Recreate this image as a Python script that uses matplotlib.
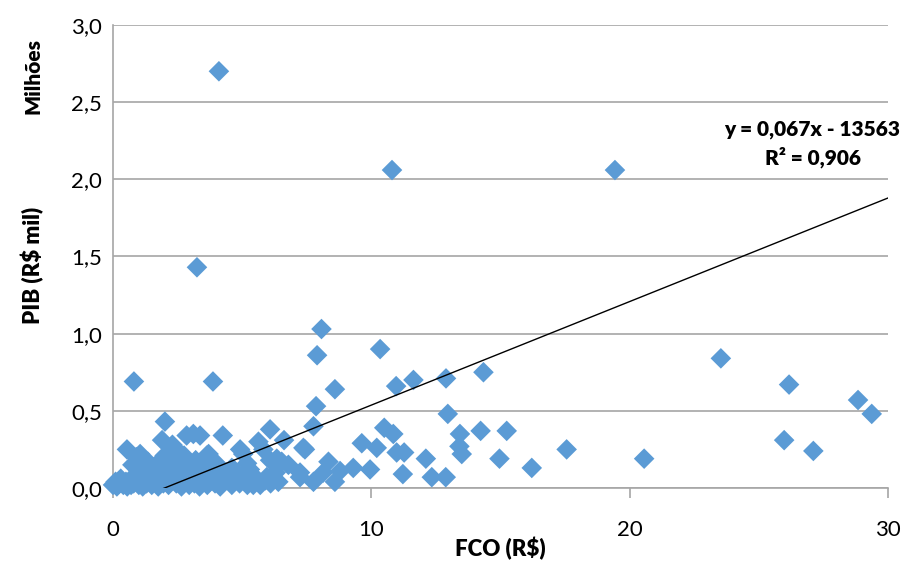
import matplotlib.pyplot as plt
from matplotlib.ticker import FuncFormatter

# FCO (R$) and PIB (millions)
fco = [
    # outliers / sparse points
    4.10, 10.80, 19.43, 3.25, 8.07, 7.90, 10.34, 0.81, 3.87, 8.59, 10.96, 11.63,
    12.89, 14.34, 7.86, 12.96, 23.53, 26.17, 28.84, 29.37, 25.98, 27.11, 20.56,
    17.56, 16.21, 15.24, 14.23, 13.43, 13.41, 13.50, 12.11, 12.34, 12.88, 14.96,
    11.22, 11.27, 10.98, 10.85, 10.50, 10.21, 9.95, 9.63, 9.30, 8.79, 8.59, 8.34,
    8.14, 7.76, 7.24, 7.43, 6.53, 6.62, 7.76, 7.37, 7.24, 6.79,
    # dense cluster, upper part
    0.54, 0.75, 0.90, 1.05, 1.20, 1.35, 1.50, 1.70, 1.85, 1.90, 2.01, 2.00, 2.15,
    2.30, 2.45, 2.50, 2.65, 2.75, 2.85, 2.90, 3.11, 3.20, 3.37, 3.40, 3.56, 3.63,
    3.70, 3.76, 3.90, 4.00, 4.25, 4.40, 4.60, 4.66, 4.84, 4.92, 5.04, 5.19, 5.30,
    5.38, 5.43, 5.63, 5.82, 5.95, 6.08, 6.08, 6.34, 6.30, 6.04,
    # dense cluster, bottom row
    0.00, 0.10, 0.15, 0.25, 0.30, 0.40, 0.50, 0.55, 0.65, 0.70, 0.80, 0.90, 1.00,
    1.05, 1.15, 1.20, 1.30, 1.40, 1.50, 1.55, 1.65, 1.75, 1.85, 1.95, 2.05, 2.15,
    2.25, 2.35, 2.45, 2.55, 2.65, 2.75, 2.85, 2.95, 3.05, 3.15, 3.25, 3.35, 3.45,
    3.55, 3.65, 3.75, 3.85, 3.95, 4.05, 4.15, 4.30, 4.45, 4.60, 4.75, 4.90, 5.05,
    5.20, 5.35, 5.50, 5.70, 5.90, 6.10, 6.40,
]
pib = [
    2.70, 2.06, 2.06, 1.43, 1.03, 0.86, 0.90, 0.69, 0.69, 0.64, 0.66, 0.70,
    0.71, 0.75, 0.53, 0.48, 0.84, 0.67, 0.57, 0.48, 0.31, 0.24, 0.19,
    0.25, 0.13, 0.37, 0.37, 0.35, 0.27, 0.22, 0.19, 0.07, 0.07, 0.19,
    0.09, 0.23, 0.23, 0.35, 0.39, 0.26, 0.12, 0.29, 0.13, 0.11, 0.04, 0.17,
    0.10, 0.04, 0.07, 0.25, 0.17, 0.31, 0.40, 0.26, 0.10, 0.15,
    0.25, 0.15, 0.20, 0.22, 0.13, 0.17, 0.12, 0.10, 0.18, 0.31, 0.43, 0.21, 0.14,
    0.28, 0.25, 0.17, 0.12, 0.21, 0.34, 0.15, 0.35, 0.18, 0.34, 0.13, 0.19, 0.21,
    0.22, 0.14, 0.12, 0.16, 0.34, 0.10, 0.13, 0.12, 0.08, 0.25, 0.22, 0.16, 0.12,
    0.09, 0.02, 0.30, 0.25, 0.07, 0.38, 0.18, 0.19, 0.10, 0.06,
    0.02, 0.04, 0.01, 0.03, 0.06, 0.02, 0.04, 0.01, 0.05, 0.02, 0.03, 0.07, 0.02,
    0.05, 0.01, 0.08, 0.03, 0.05, 0.02, 0.10, 0.04, 0.01, 0.06, 0.03, 0.08, 0.02,
    0.05, 0.11, 0.03, 0.07, 0.01, 0.04, 0.09, 0.02, 0.06, 0.03, 0.12, 0.01, 0.05,
    0.08, 0.02, 0.04, 0.10, 0.03, 0.06, 0.01, 0.04, 0.07, 0.02, 0.05, 0.03, 0.08,
    0.02, 0.04, 0.06, 0.02, 0.05, 0.03, 0.04,
]

# linear trendline in display units
trend_slope = 0.0671
trend_intercept = -0.134
trend_x = [0, 30]
equation_text = "y = 0,067x - 13563\nR² = 0,906"

plt.rcParams['font.family'] = ['Lato', 'DejaVu Sans']
grid_color = '#a6a6a6'

fig = plt.figure(figsize=(9.15, 5.65), dpi=100)
ax = fig.add_axes([0.1235, 0.1363, 0.847, 0.8195])

ax.scatter(fco, pib, marker='D', s=110, color='#5b9bd5', edgecolors='none',
           zorder=3, clip_on=False)
ax.plot(trend_x, [trend_slope * x + trend_intercept for x in trend_x],
        color='black', lw=1.0, zorder=4)

ax.set_xlim(0, 30)
ax.set_ylim(0, 3.0)
ax.set_xticks([0, 10, 20, 30])
ax.set_yticks([0, 0.5, 1.0, 1.5, 2.0, 2.5, 3.0])
ax.yaxis.set_major_formatter(FuncFormatter(lambda v, p: f"{v:.1f}".replace('.', ',')))
ax.grid(axis='y', color=grid_color, lw=1.2)
ax.set_axisbelow(True)
for s in ['top', 'right']:
    ax.spines[s].set_visible(False)
for s in ['left', 'bottom']:
    ax.spines[s].set_color(grid_color)
    ax.spines[s].set_linewidth(1.2)
ax.tick_params(axis='x', direction='out', length=7, width=1.2, color=grid_color,
               labelsize=16, pad=16)
ax.tick_params(axis='y', length=0, labelsize=16, pad=8)

ax.set_xlabel('FCO (R$)', fontsize=16, fontweight='heavy', labelpad=-2)
fig.text(0.036, 0.53, 'PIB (R$ mil)', rotation=90, fontsize=16, fontweight='heavy',
         ha='center', va='center')
fig.text(0.036, 0.865, 'Milhões', rotation=90, fontsize=15, fontweight='heavy',
         ha='center', va='center')
fig.text(0.888, 0.745, equation_text, fontsize=15, fontweight='heavy',
         ha='center', va='center', linespacing=1.4)

fig.savefig('out.png', dpi=100)
